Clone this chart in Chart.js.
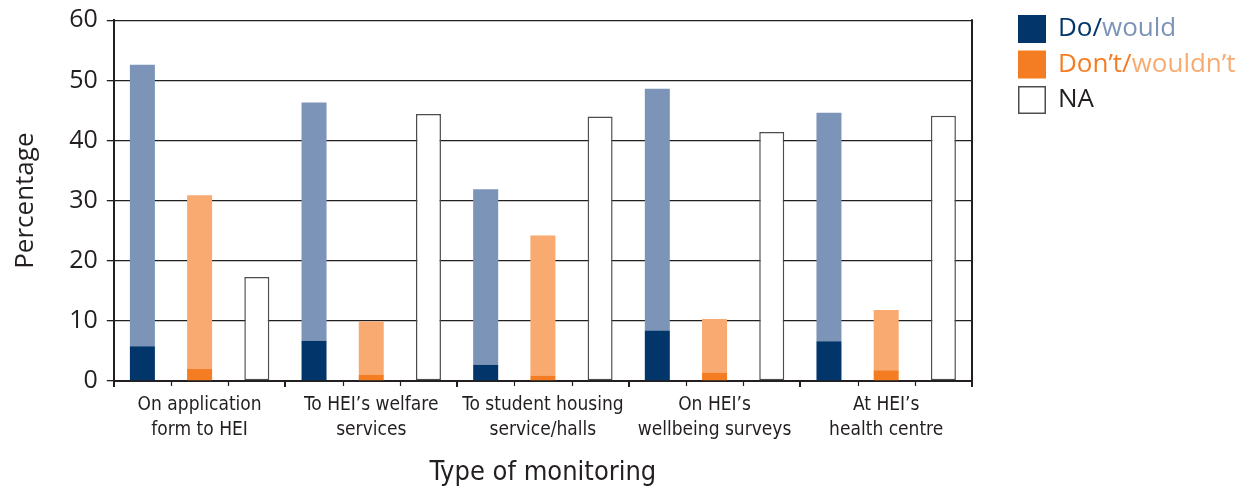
<!DOCTYPE html>
<html><head><meta charset="utf-8">
<script src="https://cdn.jsdelivr.net/npm/chart.js@4"></script>
<style>html,body{margin:0;padding:0;background:#fff}#wrap{width:1253px;height:488px;position:relative}</style>
</head><body><div id="wrap"><canvas id="c" width="1253" height="488"></canvas></div>
<script>
const categories = [["On application","form to HEI"],["To HEI’s welfare","services"],["To student housing","service/halls"],["On HEI’s","wellbeing surveys"],["At HEI’s","health centre"]];
const doValues = [5.8, 6.7, 2.7, 8.4, 6.6];
const wouldValues = [46.8, 39.6, 29.2, 40.2, 38.0];
const dontValues = [2.0, 1.0, 0.9, 1.4, 1.8];
const wouldntValues = [28.9, 8.9, 23.3, 8.9, 10.0];
const naValues = [17.3, 44.4, 44.0, 41.4, 44.1];
const yMin = 0, yMax = 60, yStep = 10;

const NAVY = '#02366a', LBLUE = '#7b94b8', ORANGE = '#f47c22', LORANGE = '#f8aa70', INK = '#231f20';
const narrow = "'Liberation Sans Narrow','DejaVu Sans Condensed','Open Sans',sans-serif";
const regular = "'Open Sans','Noto Sans',sans-serif";

const legendItems = [
  {box: NAVY, border: null, parts: [["Do/", NAVY], ["would", LBLUE]]},
  {box: ORANGE, border: null, parts: [["Don’t/", ORANGE], ["wouldn’t", LORANGE]]},
  {box: '#ffffff', border: '#4d4d4f', parts: [["NA", INK]]}
];

const extras = {
  id: 'extras',
  afterDraw(chart) {
    const ctx = chart.ctx, a = chart.chartArea, x = chart.scales.x;
    ctx.save();
    // right frame
    ctx.strokeStyle = INK; ctx.lineWidth = 2;
    ctx.beginPath(); ctx.moveTo(a.right, a.top - 1); ctx.lineTo(a.right, a.bottom + 6); ctx.stroke();
    // minor ticks at thirds of each category
    const n = categories.length, w = x.width / n;
    ctx.lineWidth = 1.2;
    for (let i = 0; i < n; i++) {
      const left = x.getPixelForValue(i) - w / 2;
      for (let k = 1; k <= 2; k++) {
        const px = Math.round(left + w * k / 3) + 0.5;
        ctx.beginPath(); ctx.moveTo(px, a.bottom); ctx.lineTo(px, a.bottom + 5); ctx.stroke();
      }
    }
    // legend
    const lx = 1018, ly = 15, sz = 28, gap = 35.5;
    ctx.font = "26px " + regular;
    ctx.textBaseline = 'middle';
    legendItems.forEach((it, i) => {
      const y = ly + i * gap;
      ctx.fillStyle = it.box; ctx.fillRect(lx, y, sz, sz);
      if (it.border) { ctx.strokeStyle = it.border; ctx.lineWidth = 1.5; ctx.strokeRect(lx + 0.75, y + 0.75, sz - 1.5, sz - 1.5); }
      let tx = 1058;
      it.parts.forEach(([t, c]) => { ctx.fillStyle = c; ctx.fillText(t, tx, y + sz / 2); tx += ctx.measureText(t).width; });
    });
    ctx.restore();
  }
};

new Chart(document.getElementById('c'), {
  type: 'bar',
  data: {
    labels: categories,
    datasets: [
      {label: 'Do', data: doValues, backgroundColor: NAVY, stack: 'do'},
      {label: 'would', data: wouldValues, backgroundColor: LBLUE, stack: 'do'},
      {label: 'Don’t', data: dontValues, backgroundColor: ORANGE, stack: 'dont'},
      {label: 'wouldn’t', data: wouldntValues, backgroundColor: LORANGE, stack: 'dont'},
      {label: 'NA', data: naValues, backgroundColor: '#ffffff', borderColor: '#4d4d4f', borderWidth: 1.5, borderSkipped: false, stack: 'na'}
    ]
  },
  options: {
    responsive: false,
    animation: false,
    barPercentage: 0.437,
    categoryPercentage: 1.0,
    layout: {padding: {top: 2, right: 281, left: 10, bottom: 0}},
    plugins: {legend: {display: false}, tooltip: {enabled: false}},
    scales: {
      x: {
        stacked: true,
        grid: {display: true, drawOnChartArea: false, drawTicks: true, tickLength: 6, color: INK, lineWidth: 2, offset: true},
        border: {display: true, color: INK, width: 2},
        ticks: {color: INK, font: {family: narrow, size: 19, lineHeight: 1.35}, padding: 5, maxRotation: 0, autoSkip: false},
        title: {display: true, text: 'Type of monitoring', color: INK, font: {family: narrow, size: 27, lineHeight: 1.1}, padding: {top: 10, bottom: 0}}
      },
      y: {
        stacked: true,
        min: yMin, max: yMax,
        grid: {color: INK, lineWidth: 1.3, tickLength: 7, drawTicks: true},
        border: {display: true, color: INK, width: 2},
        ticks: {stepSize: yStep, color: INK, font: {family: regular, size: 25, lineHeight: 0.9}, padding: 9},
        title: {display: true, text: 'Percentage', color: INK, font: {family: regular, size: 26}, padding: {top: 0, bottom: 19}}
      }
    }
  },
  plugins: [extras]
});
</script></body></html>
